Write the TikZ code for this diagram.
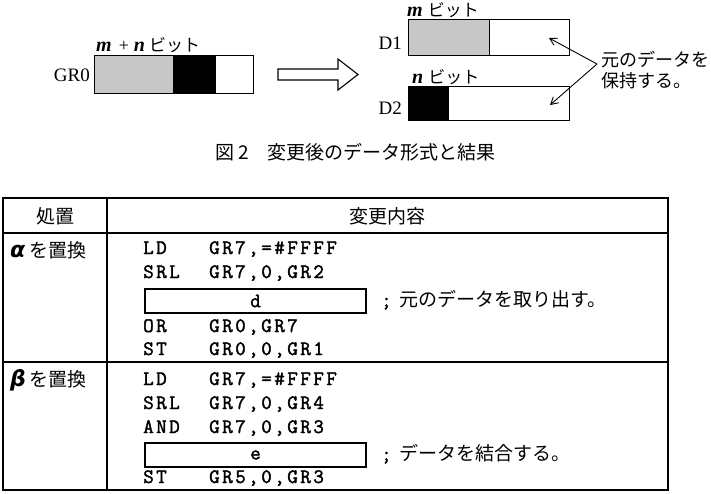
\documentclass[tikz,border=0pt]{standalone}
\usepackage{fontspec}
\setmainfont{Liberation Serif}
\newfontfamily\jp{Noto Sans CJK JP}
\newfontfamily\gk{DejaVu Sans}
\newfontfamily\monof[LetterSpace=12,FakeBold=1.8]{Latin Modern Mono}
\usetikzlibrary{arrows.meta}
\newcommand{\fs}[1]{\fontsize{#1}{#1}\selectfont}
\newcommand{\cod}{\monof\fs{20.5}}
\tikzset{
  x=1pt, y=-1pt,
  reg/.style={draw, line width=1.2pt, inner sep=0pt, anchor=north west},
  lbl/.style={inner sep=0pt, font=\fs{19}},
  jtx/.style={inner sep=0pt, font=\jp\fs{19}},
  op/.style={inner sep=0pt, anchor=base west, font=\cod},
  blank/.style={draw, line width=2pt, inner sep=0pt, anchor=north west, minimum width=221pt, minimum height=24pt, font=\cod},
  tline/.style={line width=1.3pt},
  pointer/.style={line width=0.9pt, -{Straight Barb[length=7pt,width=8pt]}},
}
\begin{document}
\begin{tikzpicture}
\useasboundingbox (0,0) rectangle (711,493);
% ---------- top figure ----------
\node[lbl, anchor=east] (gr0) at (90,75) {GR0};
\node[reg, fill=black!22, minimum width=79pt, minimum height=38pt] (g0a) at (94,55) {};
\node[reg, fill=black, minimum width=42pt, minimum height=38pt] (g0b) at (173,55) {};
\node[reg, fill=white, minimum width=38pt, minimum height=38pt] (g0c) at (215,55) {};
\node[lbl, anchor=base west] (mn) at (96,51) {{\bfseries\itshape\fs{20}m}\hspace{7pt}{\fs{18}+}\hspace{5pt}{\bfseries\itshape\fs{20}n}\hspace{4pt}{\jp\fs{17}ビット}};

\draw[line width=1.1pt, fill=white] (278,69) -- (338,69) -- (338,59) -- (358,74.5) -- (338,90) -- (338,80) -- (278,80) -- cycle;

\node[lbl, anchor=east] (d1) at (402,43) {D1};
\node[reg, fill=black!22, minimum width=81pt, minimum height=36pt] (d1a) at (408,19) {};
\node[reg, fill=white, minimum width=80pt, minimum height=36pt] (d1b) at (489,19) {};
\node[lbl, anchor=base west] (mb) at (407,16) {{\bfseries\itshape\fs{20}m}\hspace{5pt}{\jp\fs{17}ビット}};

\node[lbl, anchor=east] (d2) at (402,108) {D2};
\node[reg, fill=black, minimum width=40pt, minimum height=34pt] (d2a) at (408,86) {};
\node[reg, fill=white, minimum width=121pt, minimum height=34pt] (d2b) at (448,86) {};
\node[lbl, anchor=base west] (nb) at (412,83) {{\bfseries\itshape\fs{20}n}\hspace{5pt}{\jp\fs{17}ビット}};

\node[inner sep=0pt, anchor=west, align=left, font=\jp\fs{18}] (keep) at (601,70) {元のデータを\\[3pt]保持する。};
\coordinate (fork) at (597,64);
\coordinate (t1) at (549,38);
\coordinate (t2) at (550,105);
\draw[pointer] (fork) -- (t1);
\draw[pointer] (fork) -- (t2);

% ---------- caption ----------
\node[jtx, anchor=west] (cap) at (215,152) {図 2　変更後のデータ形式と結果};

% ---------- table ----------
\draw[tline] (3,198) rectangle (668,490);
\draw[tline] (3,233) -- (668,233);
\draw[tline] (3,362) -- (668,362);
\draw[tline] (107,198) -- (107,490);

\node[jtx] (h1) at (55,216) {処置};
\node[jtx] (h2) at (387,216) {変更内容};

\node[jtx, anchor=west] (ra) at (10,250) {{\gk\bfseries\itshape\fs{22}α}\hspace{4pt}を置換};
\node[jtx, anchor=west] (rb) at (10,380) {{\gk\bfseries\itshape\fs{22}β}\hspace{4pt}を置換};

% row alpha
\node[op] (a1o) at (143,254) {LD};   \node[op] (a1a) at (209,254) {GR7,=\#FFFF};
\node[op] (a2o) at (143,278) {SRL};  \node[op] (a2a) at (209,278) {GR7,0,GR2};
\node[blank] (bd) at (144,288) {d};
\node[op] (a4o) at (143,332) {OR};   \node[op] (a4a) at (209,332) {GR0,GR7};
\node[op] (a5o) at (143,355) {ST};   \node[op] (a5a) at (209,355) {GR0,0,GR1};
\node[inner sep=0pt, anchor=west] (ca) at (381,300) {{\cod ;}\hspace{8pt}{\jp\fs{19}元のデータを取り出す。}};

% row beta
\node[op] (b1o) at (143,385) {LD};   \node[op] (b1a) at (209,385) {GR7,=\#FFFF};
\node[op] (b2o) at (143,409) {SRL};  \node[op] (b2a) at (209,409) {GR7,0,GR4};
\node[op] (b3o) at (143,433) {AND};  \node[op] (b3a) at (209,433) {GR7,0,GR3};
\node[blank] (be) at (144,442) {e};
\node[op] (b5o) at (143,483) {ST};   \node[op] (b5a) at (209,483) {GR5,0,GR3};
\node[inner sep=0pt, anchor=west] (cb) at (381,454) {{\cod ;}\hspace{8pt}{\jp\fs{19}データを結合する。}};
\end{tikzpicture}
\end{document}
